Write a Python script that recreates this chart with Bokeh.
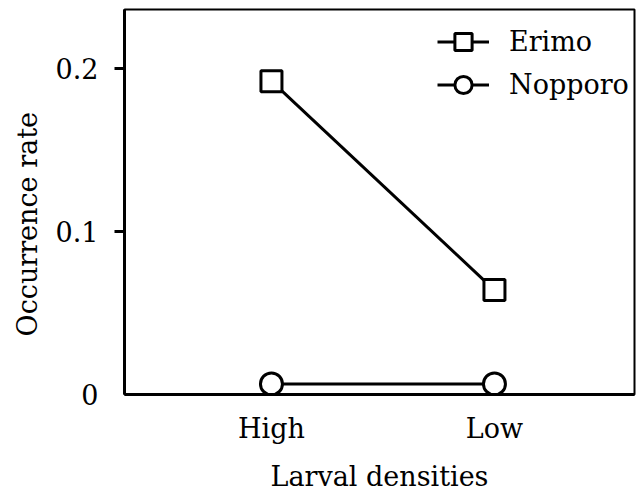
from bokeh.plotting import figure
from bokeh.models import Range1d, FixedTicker, Legend, LegendItem, Title
from bokeh.embed import file_html
from bokeh.resources import INLINE

categories = ["High", "Low"]
erimo = [0.192, 0.064]
nopporo = [0.0065, 0.0065]
y_ticks = [0, 0.1, 0.2]
y_tick_labels = ["0", "0.1", "0.2"]

xs = list(range(len(categories)))
FONT = "DejaVu Serif"
FS = "27px"

x0, x1 = -0.659, 1.628
p = figure(width=636, height=494, output_backend="svg", toolbar_location=None,
           x_range=Range1d(x0, x1), y_range=Range1d(0, 0.2359),
           min_border_left=124, min_border_right=2, min_border_top=9, min_border_bottom=97)

p.xgrid.visible = False
p.ygrid.visible = False
p.outline_line_color = "black"
p.outline_line_width = 2
p.background_fill_color = "white"
p.border_fill_color = "white"

# X axis
p.xaxis.ticker = FixedTicker(ticks=xs)
p.xaxis.major_label_overrides = {i: c for i, c in enumerate(categories)}
p.xaxis.major_tick_out = 0
p.xaxis.major_tick_in = 0
p.xaxis.minor_tick_out = 0
p.xaxis.minor_tick_in = 0
p.xaxis.axis_label = "Larval densities"

# Y axis: labels on all ticks; tick marks (drawn as minor ticks) only at nonzero values
p.yaxis.ticker = FixedTicker(ticks=y_ticks, minor_ticks=[t for t in y_ticks if t != 0])
p.yaxis.major_label_overrides = {t: l for t, l in zip(y_ticks, y_tick_labels)}
p.yaxis.major_tick_out = 0
p.yaxis.major_tick_in = 0
p.yaxis.minor_tick_out = 10
p.yaxis.minor_tick_in = 0
p.yaxis.minor_tick_line_width = 3
p.yaxis.minor_tick_line_color = "black"

for ax in (p.xaxis[0], p.yaxis[0]):
    ax.axis_line_width = 3
    ax.axis_line_color = "black"
    ax.major_tick_line_width = 3
    ax.major_tick_line_color = "black"
    ax.major_label_text_font = FONT
    ax.major_label_text_font_size = FS
    ax.major_label_text_color = "black"
    ax.axis_label_text_font = FONT
    ax.axis_label_text_font_size = FS
    ax.axis_label_text_font_style = "normal"
    ax.axis_label_text_color = "black"

p.xaxis.major_label_standoff = 18
p.xaxis.axis_label_standoff = 14
p.yaxis.major_label_standoff = 16

ylab = Title(text="Occurrence rate", align="left", offset=58, standoff=19,
             text_font=FONT, text_font_size=FS, text_font_style="normal",
             text_color="black")
p.add_layout(ylab, "left")

# Data
l1 = p.line(xs, erimo, line_color="black", line_width=3)
s1 = p.scatter(xs, erimo, marker="square", size=21, fill_color="white",
               line_color="black", line_width=3)
l2 = p.line(xs, nopporo, line_color="black", line_width=3)
s2 = p.scatter(xs, nopporo, marker="circle", size=22, fill_color="white",
               line_color="black", line_width=3)

legend = Legend(items=[LegendItem(label="Erimo", renderers=[l1, s1]),
                       LegendItem(label="Nopporo", renderers=[l2, s2])],
                location=(313, 288), glyph_width=52, glyph_height=43, spacing=0,
                padding=5, margin=0, label_standoff=20,
                label_text_font=FONT, label_text_font_size=FS, label_text_color="black",
                border_line_color=None, background_fill_alpha=0)
p.add_layout(legend)

open("out.html", "w").write(file_html(p, INLINE))
